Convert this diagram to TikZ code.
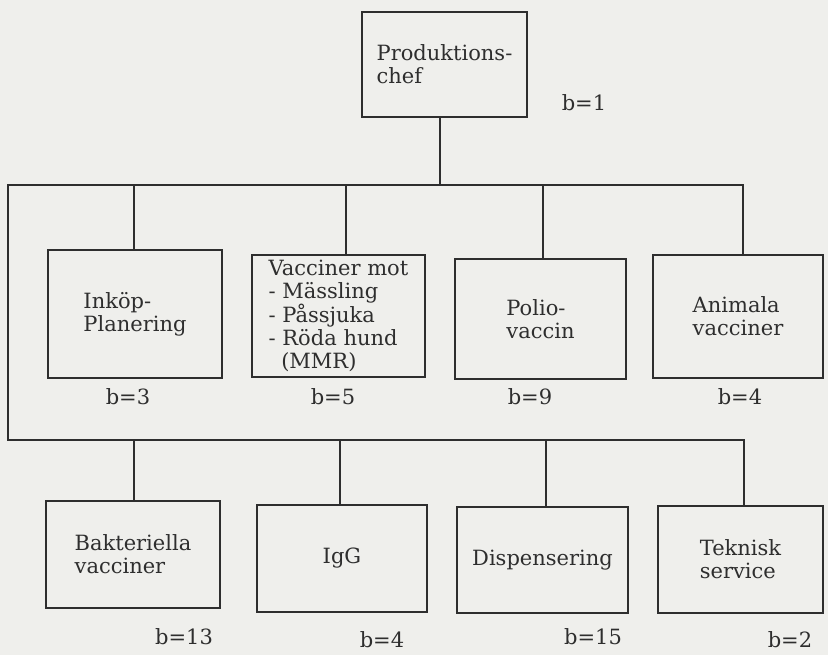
\documentclass[tikz,border=0pt]{standalone}
\usepackage{fontspec}
\setmainfont{DejaVu Serif}
\definecolor{paper}{HTML}{EFEFEC}
\definecolor{ink}{HTML}{2E2E2E}
\begin{document}
\begin{tikzpicture}[x=1pt,y=1pt,
  unit/.style={draw=ink, line width=1.7pt, rectangle, inner sep=0pt,
    align=left, font=\fontsize{21}{23}\selectfont, text=ink},
  staff/.style={font=\fontsize{21}{23}\selectfont, text=ink, inner sep=0pt},
  link/.style={draw=ink, line width=1.7pt}]
  % sheet
  \fill[paper] (0,0) rectangle (828,655);
  \useasboundingbox (0,0) rectangle (828,655);

  % head of production
  \node[unit, minimum width=165, minimum height=105] (prod) at (444.5,590.5)
    {Produktions-\\chef};
  \node[staff] (bprod) at (584,552) {b=1};

  % first row of departments
  \node[unit, minimum width=174, minimum height=128] (inkop) at (135,341)
    {Inköp-\\Planering};
  \node[unit, minimum width=173, minimum height=122] (vac) at (338.5,339)
    {Vacciner mot\\- Mässling\\- Påssjuka\\- Röda hund\\\hspace*{0.6em}(MMR)};
  \node[unit, minimum width=171, minimum height=120] (polio) at (540.5,336)
    {Polio-\\vaccin};
  \node[unit, minimum width=170, minimum height=123] (anim) at (738,338.5)
    {Animala\\vacciner};

  \node[staff] (binkop) at (128,258) {b=3};
  \node[staff] (bvac)   at (333,258) {b=5};
  \node[staff] (bpolio) at (530,258) {b=9};
  \node[staff] (banim)  at (740,258) {b=4};

  % second row of departments
  \node[unit, minimum width=174, minimum height=107] (bakt) at (133,100.5)
    {Bakteriella\\vacciner};
  \node[unit, minimum width=170, minimum height=107] (igg) at (342,96.5)
    {IgG};
  \node[unit, minimum width=171, minimum height=106] (disp) at (542.5,95)
    {Dispensering};
  \node[unit, minimum width=165, minimum height=107] (tek) at (740.5,95.5)
    {Teknisk\\service};

  \node[staff] (bbakt) at (184,18) {b=13};
  \node[staff] (bigg)  at (382,15) {b=4};
  \node[staff] (bdisp) at (593,18) {b=15};
  \node[staff] (btek)  at (790,15) {b=2};

  % bus corners
  \coordinate (tl) at (8,470);
  \coordinate (bl) at (8,215);

  % main bus: top rail, left riser, bottom rail
  \draw[link] ([xshift=5pt]anim.north) |- (tl) -- (bl) -| ([xshift=3.5pt]tek.north);
  \draw[link] ([xshift=-4.5pt]prod.south) -- ([xshift=-4.5pt]prod.south |- tl);

  % drops to the first row
  \draw[link] ([xshift=-1pt]inkop.north) -- ([xshift=-1pt]inkop.north |- tl);
  \draw[link] ([xshift=7.5pt]vac.north) -- ([xshift=7.5pt]vac.north |- tl);
  \draw[link] ([xshift=2.5pt]polio.north) -- ([xshift=2.5pt]polio.north |- tl);

  % drops to the second row
  \draw[link] ([xshift=1pt]bakt.north) -- ([xshift=1pt]bakt.north |- bl);
  \draw[link] ([xshift=-2pt]igg.north) -- ([xshift=-2pt]igg.north |- bl);
  \draw[link] ([xshift=3.5pt]disp.north) -- ([xshift=3.5pt]disp.north |- bl);
\end{tikzpicture}
\end{document}
